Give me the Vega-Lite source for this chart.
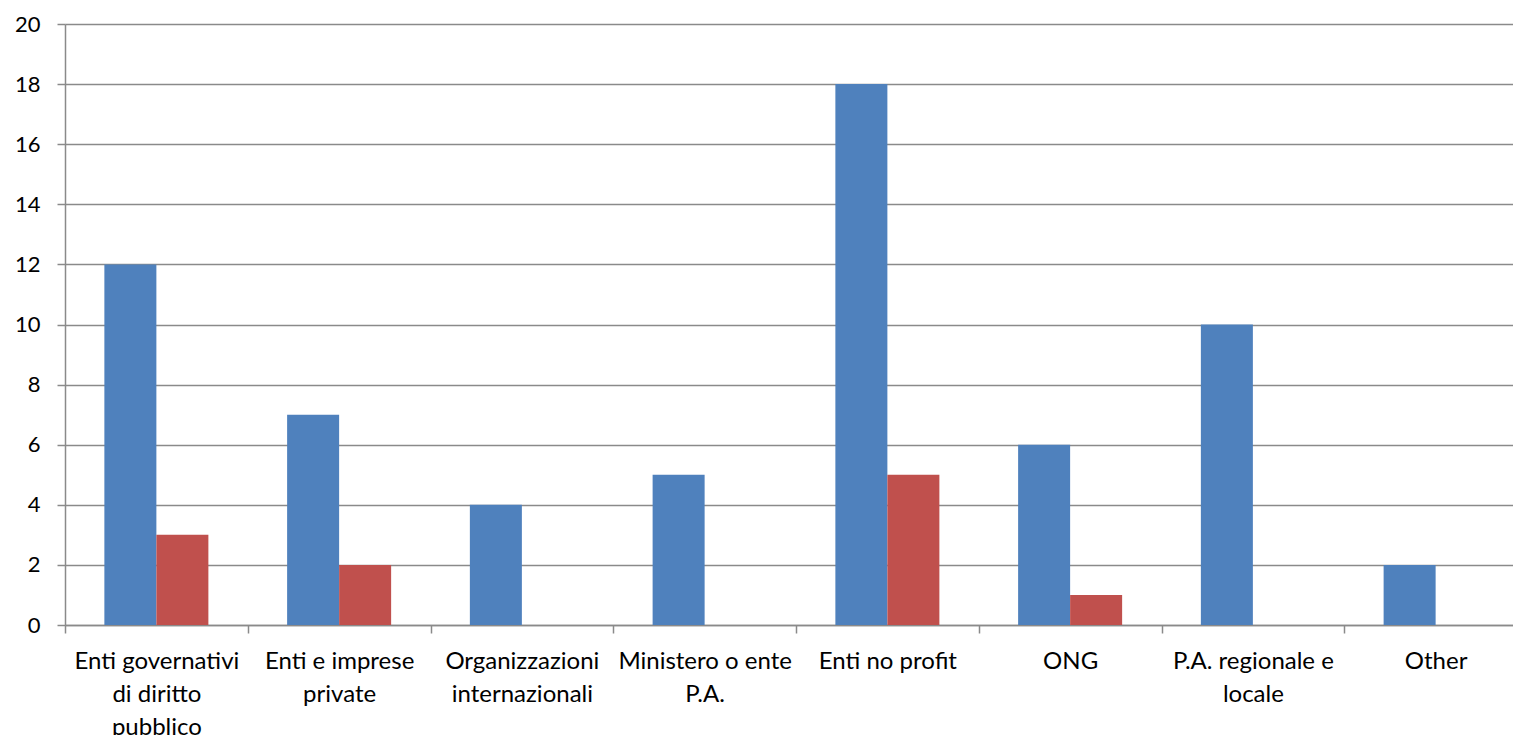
{
  "$schema": "https://vega.github.io/schema/vega-lite/v6.json",
  "autosize": {"type": "none"},
  "width": 1462,
  "height": 601,
  "padding": {"left": 65, "top": 24, "right": 0, "bottom": 110},
  "background": "white",
  "config": {"view": {"stroke": null}, "font": "Lato"},
  "data": {
    "values": [
      {"cat": "Enti governativi|di diritto|pubblico", "series": "A", "value": 12},
      {"cat": "Enti governativi|di diritto|pubblico", "series": "B", "value": 3},
      {"cat": "Enti e imprese|private", "series": "A", "value": 7},
      {"cat": "Enti e imprese|private", "series": "B", "value": 2},
      {"cat": "Organizzazioni|internazionali", "series": "A", "value": 4},
      {"cat": "Organizzazioni|internazionali", "series": "B", "value": 0},
      {"cat": "Ministero o ente|P.A.", "series": "A", "value": 5},
      {"cat": "Ministero o ente|P.A.", "series": "B", "value": 0},
      {"cat": "Enti no profit", "series": "A", "value": 18},
      {"cat": "Enti no profit", "series": "B", "value": 5},
      {"cat": "ONG", "series": "A", "value": 6},
      {"cat": "ONG", "series": "B", "value": 1},
      {"cat": "P.A. regionale e|locale", "series": "A", "value": 10},
      {"cat": "P.A. regionale e|locale", "series": "B", "value": 0},
      {"cat": "Other", "series": "A", "value": 2},
      {"cat": "Other", "series": "B", "value": 0}
    ]
  },
  "mark": {"type": "bar"},
  "encoding": {
    "x": {
      "field": "cat",
      "type": "nominal",
      "sort": null,
      "title": null,
      "scale": {"paddingInner": 0, "paddingOuter": 0},
      "axis": {
        "labelExpr": "split(datum.label, '|')",
        "labelAngle": 0,
        "labelFontSize": 24,
        "labelLineHeight": 33,
        "labelColor": "#000000",
        "labelPadding": 16,
        "labelLimit": 0,
        "labelOverlap": false,
        "domainColor": "#8a8a8a",
        "domainWidth": 1.5,
        "tickColor": "#8a8a8a",
        "tickWidth": 1.5,
        "tickSize": 8,
        "tickBand": "extent"
      }
    },
    "xOffset": {
      "field": "series",
      "sort": null,
      "scale": {"paddingInner": 0, "paddingOuter": 0.757}
    },
    "y": {
      "field": "value",
      "type": "quantitative",
      "title": null,
      "scale": {"domain": [0, 20], "nice": false},
      "axis": {
        "values": [0, 2, 4, 6, 8, 10, 12, 14, 16, 18, 20],
        "labelFontSize": 22,
        "labelColor": "#000000",
        "labelPadding": 17,
        "grid": true,
        "gridColor": "#8a8a8a",
        "gridWidth": 1.5,
        "domainColor": "#8a8a8a",
        "domainWidth": 1.5,
        "tickColor": "#8a8a8a",
        "tickWidth": 1.5,
        "tickSize": 8
      }
    },
    "color": {
      "field": "series",
      "type": "nominal",
      "scale": {"domain": ["A", "B"], "range": ["#4F81BD", "#C0504D"]},
      "legend": null
    }
  }
}
